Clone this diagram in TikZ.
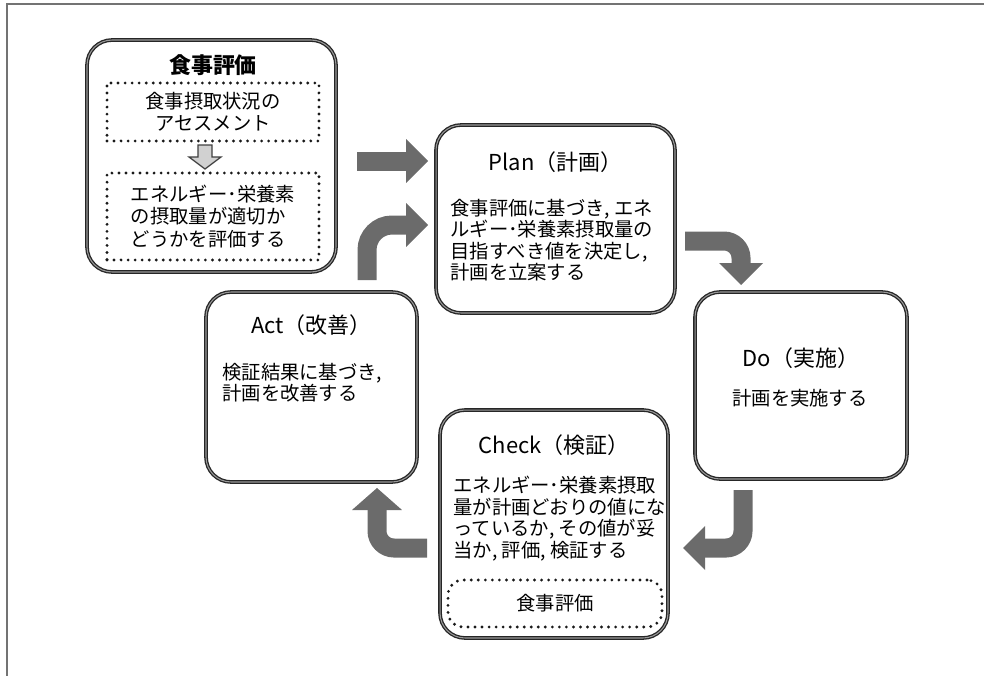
\documentclass[tikz,border=0pt]{standalone}
\usepackage{fontspec}
\setmainfont{Noto Sans CJK JP}
\usetikzlibrary{arrows.meta}
\begin{document}
\begin{tikzpicture}[x=0.02cm,y=-0.02cm,
 box/.style={draw=black!85, double=black!40, double distance=0.6pt, line width=0.75pt, rounded corners=0.5cm, fill=white, inner sep=0pt},
 dotbox/.style={draw=black!90, line width=1.8pt, line cap=round, dash pattern=on 0pt off 4pt, inner sep=0pt},
 ttl/.style={font=\fontsize{12.5}{14}\selectfont, inner sep=0pt},
 body/.style={font=\fontsize{11}{12.2}\selectfont, align=left, inner sep=0pt},
 blk/.style={draw=black!58, line width=0.38cm, rounded corners=0.34cm, -{Triangle[length=0.44cm, width=0.88cm, line width=0pt]}},
]
\useasboundingbox (0,0) rectangle (984,676);
% frame
\coordinate (fbl) at (7,676);
\coordinate (ftl) at (7,4);
\coordinate (ftr) at (984,4);
\draw[black!55, line width=0.8pt] (fbl) -- (ftl) -- (ftr);

% food evaluation box
\node[box, minimum width=4.98cm, minimum height=4.64cm] (food) at (211.5,156) {};
\node[font=\bfseries\fontsize{12.5}{14}\selectfont, inner sep=0pt] (foodt) at (213,65) {食事評価};
\node[dotbox, minimum width=4.24cm, minimum height=1.16cm, align=center, font=\fontsize{11}{12.6}\selectfont] (dot1) at (213,112) {食事摂取状況の\\アセスメント};
\node[dotbox, minimum width=4.24cm, minimum height=1.74cm] (dot2) at (213,216.5) {};
\node[body, font=\fontsize{11}{12.8}\selectfont] (dot2t) at (dot2) {エネルギー･栄養素\\の摂取量が適切か\\どうかを評価する};
\draw[fill=black!18, draw=black!75, line width=0.7pt] (198,145) -- (212,145) -- (212,157) -- (221,157) -- (205,169) -- (189,157) -- (198,157) -- cycle;

% Plan
\node[box, minimum width=4.78cm, minimum height=3.76cm] (plan) at (555.5,219) {};
\node[ttl] (plant) at (555.5,162) {Plan（計画）};
\node[body, anchor=west] (planb) at (450,240) {食事評価に基づき, エネ\\ルギー･栄養素摂取量の\\目指すべき値を決定し,\\計画を立案する};

% Do
\node[box, minimum width=4.24cm, minimum height=3.74cm] (do) at (801,385.5) {};
\node[ttl] (dot) at (801,358) {Do（実施）};
\node[body] (dob) at (800,398) {計画を実施する};

% Check
\node[box, minimum width=4.56cm, minimum height=4.56cm] (check) at (554,524) {};
\node[ttl] (checkt) at (554,445) {Check（検証）};
\node[body, anchor=west] (checkb) at (453,518.5) {エネルギー･栄養素摂取\\量が計画どおりの値にな\\っているか, その値が妥\\当か, 評価, 検証する};
\node[dotbox, rounded corners=0.3cm, minimum width=4.28cm, minimum height=0.94cm, font=\fontsize{11}{12.2}\selectfont] (dot3) at (555,603.5) {食事評価};

% Act
\node[box, minimum width=4.22cm, minimum height=3.8cm] (act) at (311.5,387) {};
\node[ttl] (actt) at (311.5,325) {Act（改善）};
\node[body, anchor=west] (actb) at (222,382.5) {検証結果に基づき,\\計画を改善する};

% block arrows
\coordinate (a1s) at (357,161);
\coordinate (a1e) at (428,161);
\draw[blk] (a1s) -- (a1e);

\coordinate (a2s) at (367,280);
\coordinate (a2c) at (367,225);
\coordinate (a2e) at (428,225);
\draw[blk, rounded corners=0.5cm] (a2s) -- (a2c) -- (a2e);

\coordinate (a3s) at (685,241);
\coordinate (a3c) at (741,241);
\coordinate (a3e) at (741,285);
\draw[blk] (a3s) -- (a3c) -- (a3e);

\coordinate (a4s) at (743,490);
\coordinate (a4c) at (743,548);
\coordinate (a4e) at (683,548);
\draw[blk] (a4s) -- (a4c) -- (a4e);

\coordinate (a5s) at (427,548);
\coordinate (a5c) at (377,548);
\coordinate (a5e) at (377,488);
\draw[blk, -{Triangle[length=0.44cm, width=1.0cm, line width=0pt]}] (a5s) -- (a5c) -- (a5e);
\end{tikzpicture}
\end{document}
